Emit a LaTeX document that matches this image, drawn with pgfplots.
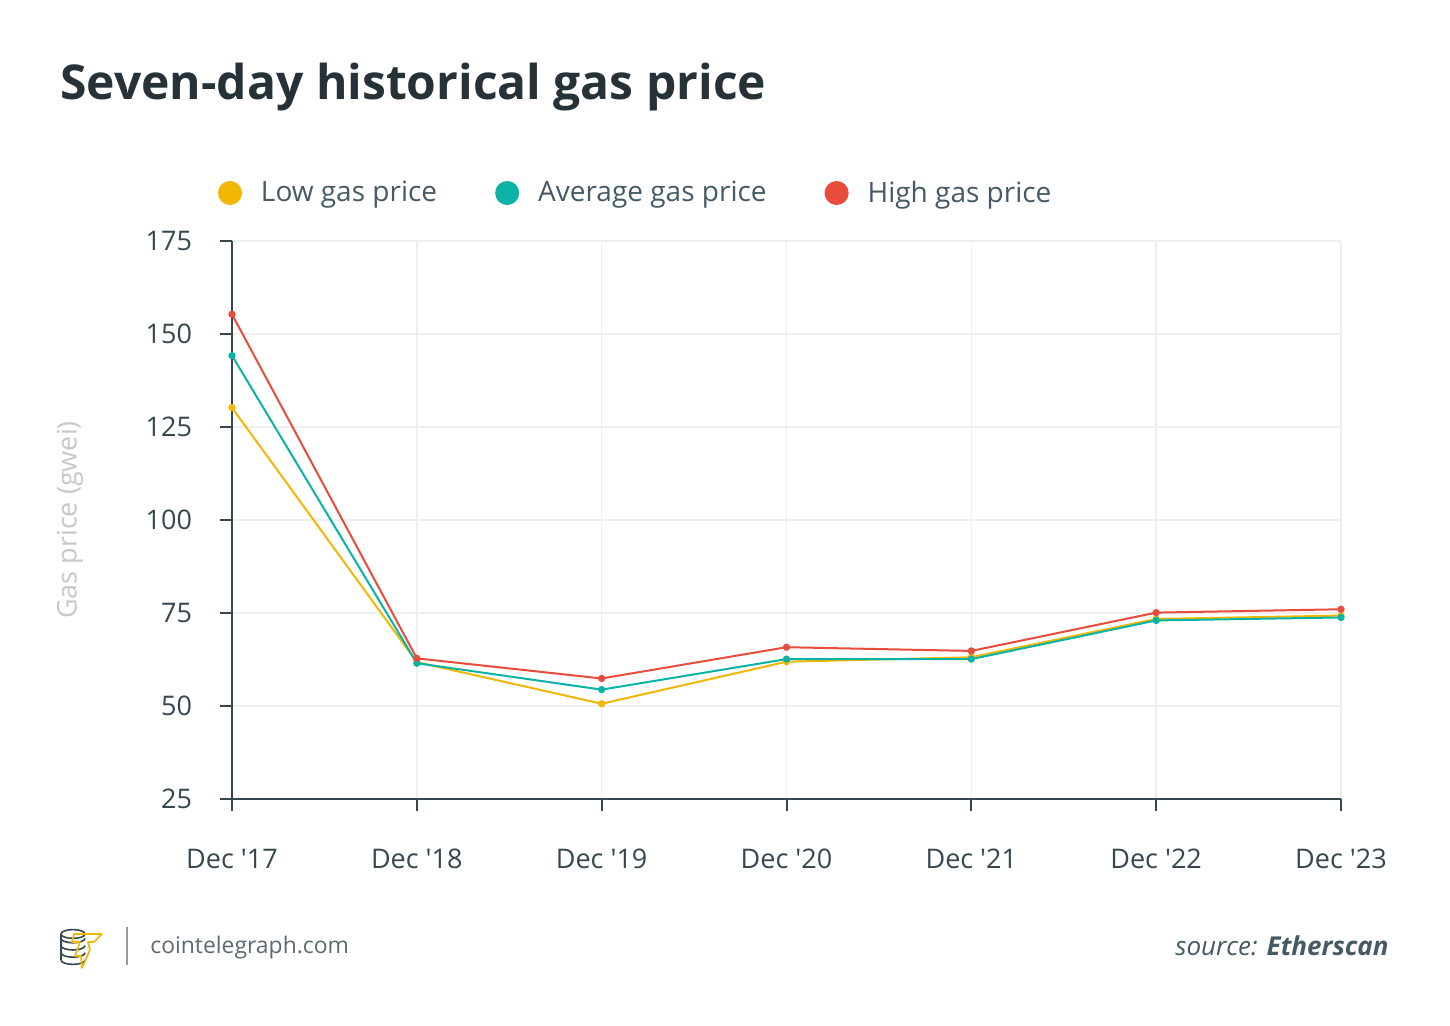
\documentclass[border=0pt]{standalone}
\usepackage{fontspec}
\setmainfont{Open Sans}
\usepackage{pgfplots}
\pgfplotsset{compat=1.18}
\definecolor{cLow}{HTML}{F2B705}
\definecolor{cAvg}{HTML}{0AB3A6}
\definecolor{cHigh}{HTML}{E74C3C}
\definecolor{axiscol}{HTML}{37474F}
\definecolor{titlecol}{HTML}{263238}
\definecolor{textcol}{HTML}{455A64}
\definecolor{gridcol}{HTML}{EFEFEF}
\definecolor{ylabcol}{HTML}{C5C9CB}
\definecolor{footcol}{HTML}{5D6A72}

\pgfplotstableread{
x low avg high
0 130.2 144.2 155.3
1 61.8 61.5 62.8
2 50.6 54.4 57.4
3 61.9 62.6 65.8
4 63.1 62.6 64.8
5 73.4 73.0 75.1
6 74.3 73.8 76.0
}\gasdata

\begin{document}
\begin{tikzpicture}
\fill[white] (0,0) rectangle (725pt,513pt);
\useasboundingbox (0,0) rectangle (725pt,513pt);
\node[anchor=base west, font=\fontsize{24}{28}\selectfont\bfseries, text=titlecol, inner sep=0] at (30pt,463pt) {Seven-day historical gas price};
\begin{axis}[
  at={(116pt,113.5pt)}, anchor=south west, scale only axis,
  width=554.5pt, height=279pt,
  xmin=0, xmax=6, ymin=25, ymax=175,
  xtick={0,...,6},
  xticklabels={Dec \textquotesingle17,Dec \textquotesingle18,Dec \textquotesingle19,Dec \textquotesingle20,Dec \textquotesingle21,Dec \textquotesingle22,Dec \textquotesingle23},
  ytick={25,50,...,175},
  axis x line*=bottom, axis y line*=left,
  axis line style={axiscol, line width=1pt, -},
  tick style={axiscol, line width=1pt},
  major tick length=6pt, tick align=outside,
  grid=major, major grid style={gridcol, line width=0.8pt},
  ticklabel style={font=\fontsize{13.5}{16}\selectfont, text=axiscol},
  /pgf/number format/assume math mode=true,
  xticklabel shift=15.5pt,
  yticklabel shift=10.5pt,
  legend columns=3,
  legend style={at={(-0.013,1.086)}, anchor=west, draw=none, fill=none, inner sep=0pt,
    font=\fontsize{14}{17}\selectfont, text=textcol,
    /tikz/every odd column/.append style={column sep=9.5pt},
    /tikz/every even column/.append style={column sep=29pt},
    nodes={inner sep=0pt}},
  legend image code/.code={\fill (5.5pt,0pt) circle (5.5pt);},
  every axis plot/.append style={line width=1pt, mark=*, mark size=1.3pt},
]
\addplot[cLow, mark options={fill=cLow, draw=cLow}] table[x=x, y=low] {\gasdata};
\addlegendentry{Low gas price}
\addplot[cAvg, mark options={fill=cAvg, draw=cAvg}] table[x=x, y=avg] {\gasdata};
\addlegendentry{Average gas price}
\addplot[cHigh, mark options={fill=cHigh, draw=cHigh}] table[x=x, y=high] {\gasdata};
\addlegendentry{High gas price}
\end{axis}
\node[rotate=90, font=\fontsize{13.5}{16}\selectfont, text=ylabcol] at (35pt,253pt) {Gas price (gwei)};
% footer
\draw[gray!80, line width=1pt] (63.5pt,30.5pt) -- (63.5pt,49.5pt);
\node[anchor=west, inner sep=0, font=\fontsize{11.45}{13}\selectfont, text=footcol] at (75pt,39pt) {cointelegraph.com};
\node[anchor=east, inner sep=0, font=\fontsize{13}{15}\selectfont, text=textcol] at (694.5pt,40pt) {\textit{source:} \textbf{\textit{Etherscan}}};
% logo
\begin{scope}[line width=0.8pt, draw=axiscol]
\foreach \k in {0,1,2,3} {
  \draw (30.5pt,{33pt+\k*3.6pt}) arc (180:360:6pt and 2.2pt);
}
\draw (36.5pt,46pt) ellipse (6pt and 2.2pt);
\draw (30.5pt,33pt) -- (30.5pt,46pt);
\end{scope}
\draw[cLow, line width=0.8pt, line join=round] (37pt,46pt) -- (51pt,46pt) -- (47pt,42pt) -- (44pt,42pt) -- (45pt,38pt) -- (41pt,29pt) -- (40.5pt,35pt) -- (37.5pt,35pt) -- (40pt,42pt) -- (36pt,42pt) -- cycle;
\end{tikzpicture}
\end{document}
